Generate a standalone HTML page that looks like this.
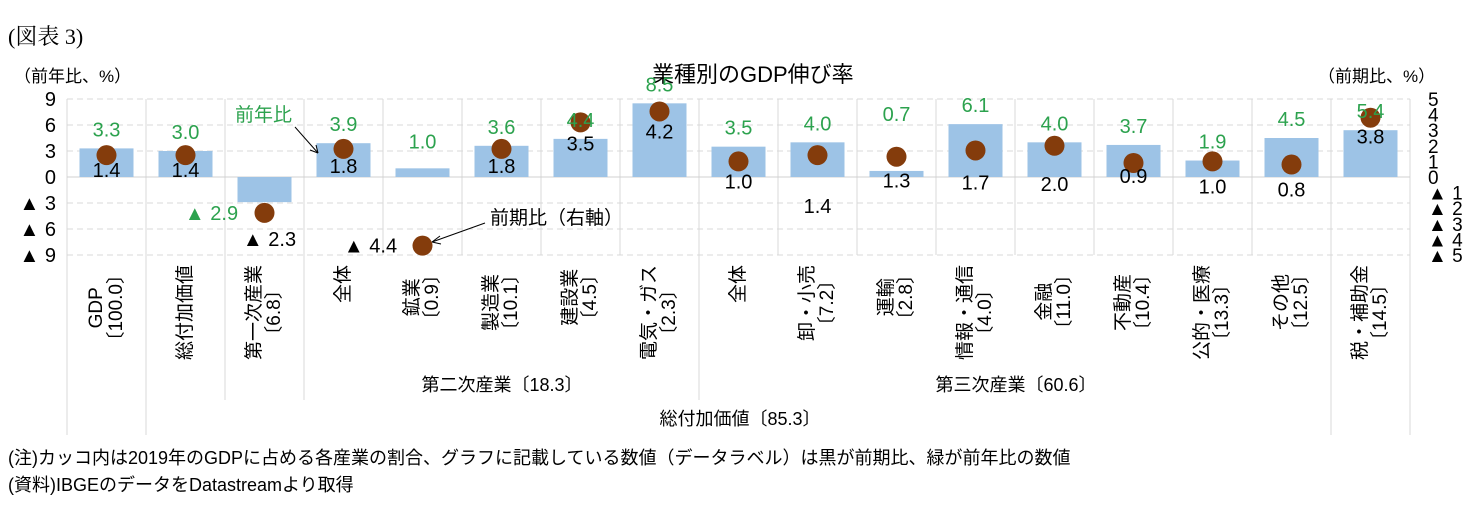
<!DOCTYPE html>
<html><head><meta charset="utf-8"><style>
body{margin:0;background:#fff;width:1483px;height:519px;overflow:hidden;font-family:"Liberation Sans","Noto Sans CJK JP",sans-serif;}
#c{position:absolute;left:0;top:0;}
.t{position:absolute;white-space:nowrap;color:#000;}
.rot{position:absolute;transform-origin:0 0;transform:rotate(-90deg) translateX(-100%);text-align:center;font-size:19px;line-height:20px;white-space:nowrap;}
</style></head><body>
<div class="t" style="left:8px;top:20px;font-size:22px;font-family:'Liberation Serif','Noto Serif CJK SC',serif;">(図表 3)</div>
<div class="t" style="left:652px;top:57px;font-size:22px;">業種別のGDP伸び率</div>
<div class="t" style="left:14px;top:62px;font-size:17px;">（前年比、%）</div>
<div class="t" style="left:1318px;top:62px;font-size:17px;">（前期比、%）</div>
<div class="t" style="left:8px;top:444px;font-size:18px;">(注)カッコ内は2019年のGDPに占める各産業の割合、グラフに記載している数値（データラベル）は黒が前期比、緑が前年比の数値</div>
<div class="t" style="left:8px;top:471px;font-size:18px;">(資料)IBGEのデータをDatastreamより取得</div>
<svg id="c" width="1483" height="519"></svg>
<div id="labels"></div>
<script>
const categories=["GDP","総付加価値","第一次産業","全体","鉱業","製造業","建設業","電気・ガス","全体","卸・小売","運輸","情報・通信","金融","不動産","公的・医療","その他","税・補助金"];
const shares=["〔100.0〕","","〔6.8〕","","〔0.9〕","〔10.1〕","〔4.5〕","〔2.3〕","","〔7.2〕","〔2.8〕","〔4.0〕","〔11.0〕","〔10.4〕","〔13.3〕","〔12.5〕","〔14.5〕"];
const yoy=[3.3,3.0,-2.9,3.9,1.0,3.6,4.4,8.5,3.5,4.0,0.7,6.1,4.0,3.7,1.9,4.5,5.4];
const qoq=[1.4,1.4,-2.3,1.8,-4.4,1.8,3.5,4.2,1.0,1.4,1.3,1.7,2.0,0.9,1.0,0.8,3.8];
const leftTicks=[9,6,3,0,-3,-6,-9];
const rightTicks=[5,4,3,2,1,0,-1,-2,-3,-4,-5];
// label offsets (px)
const gDy=[0,0,-22,0,-8,0,0,0,0,0,-38,0,0,0,0,0,0];
const gDx=[0,0,-53,0,0,0,0,0,0,0,0,0,0,0,0,0,0];
const bDy=[15,15,26,17,0,17,21,20,20,51,24,32,38,13,25,25,19];
const bDx=[0,0,5,0,-52,0,0,0,0,0,0,0,0,0,0,0,0];

const X0=67,CW=79,Y0=177;
const yL=v=>Y0-v*(78/9);
const yR=v=>Y0-v*(78/5);
const cx=i=>X0+CW*(i+0.5);
const fmt=v=>v<0?"▲ "+Math.abs(v).toFixed(1):v.toFixed(1);
const svg=document.getElementById('c');
const NS="http://www.w3.org/2000/svg";
function mk(tag,attrs,name,txt){const e=document.createElementNS(NS,tag);for(const k in attrs)e.setAttribute(k,attrs[k]);


if(txt!==undefined)e.textContent=txt;svg.appendChild(e);return e;}
const F='"Liberation Sans","Noto Sans CJK JP",sans-serif';
for(let i=0;i<=17;i++){let x=X0+CW*i;let yb=255;
 if(i==0||i==1||i==16||i==17)yb=435;else if(i==2||i==3||i==8)yb=400;
 mk('line',{x1:x,y1:99,x2:x,y2:yb,stroke:'#d9d9d9','stroke-width':1},'v-gridline');}
leftTicks.forEach(t=>{const y=yL(t);
 mk('line',{x1:X0,y1:y,x2:X0+CW*17,y2:y,stroke:t==0?'#d0d0d0':'#d9d9d9','stroke-width':1,'stroke-dasharray':t==0?'':'6,4'},'h-gridline');
 mk('text',{x:56,y:y+7,'text-anchor':'end','font-size':20,'font-family':F},'left-tick-label',t<0?"▲ "+(-t):String(t));});
rightTicks.forEach(t=>{const y=yR(t);
 mk('text',{x:1428,y:y+7,'font-size':19,'font-family':F},'right-tick-label',t<0?"▲ "+(-t):String(t));});
yoy.forEach((v,i)=>{const y1=yL(Math.max(v,0)),y2=yL(Math.min(v,0));
 mk('rect',{x:cx(i)-27,y:y1,width:54,height:y2-y1,fill:'#9dc3e6'},'bar-'+i);});
qoq.forEach((v,i)=>{mk('circle',{cx:cx(i),cy:yR(v),r:10,fill:'#843c0c'},'dot-'+i);});
yoy.forEach((v,i)=>{const y=(v>=0?yL(v)-12:yL(v)+40)+gDy[i];
 mk('text',{x:cx(i)+gDx[i],y:y,'text-anchor':'middle','font-size':20,fill:'#2ca24e','font-family':F},'yoy-label',fmt(v));});
qoq.forEach((v,i)=>{const y=yR(v)+bDy[i]+7;
 mk('text',{x:cx(i)+bDx[i],y:y,'text-anchor':'middle','font-size':20,fill:'#000','font-family':F},'qoq-label',fmt(v));});
mk('text',{x:235,y:121,'font-size':19,fill:'#2ca24e','font-family':F},'yoy-annotation','前年比');
mk('line',{x1:295,y1:127,x2:318,y2:153,stroke:'#000','stroke-width':1},'yoy-arrow');
mk('path',{d:'M318 153 l-8 -3 M318 153 l-2 -8',stroke:'#000',fill:'none'},'yoy-arrowhead');
mk('text',{x:490,y:224,'font-size':19,fill:'#000','font-family':F},'qoq-annotation','前期比（右軸）');
mk('line',{x1:485,y1:223,x2:432,y2:242,stroke:'#000','stroke-width':1},'qoq-arrow');
mk('path',{d:'M432 242 l8 -6 M432 242 l9 2',stroke:'#000',fill:'none'},'qoq-arrowhead');
mk('text',{x:502,y:391,'text-anchor':'middle','font-size':18,'font-family':F},'group-label-secondary','第二次産業〔18.3〕');
mk('text',{x:1016,y:391,'text-anchor':'middle','font-size':18,'font-family':F},'group-label-tertiary','第三次産業〔60.6〕');
mk('text',{x:740,y:425,'text-anchor':'middle','font-size':18,'font-family':F},'group-label-gva','総付加価値〔85.3〕');
const L=document.getElementById('labels');
categories.forEach((c,i)=>{const d=document.createElement('div');d.className='rot';
 
 
 const n=shares[i]?2:1;d.style.left=(cx(i)-n*20/2)+'px';d.style.top='265px';
 d.innerHTML=c+(shares[i]?'<br>'+shares[i]:'');L.appendChild(d);});
</script>
</body></html>
